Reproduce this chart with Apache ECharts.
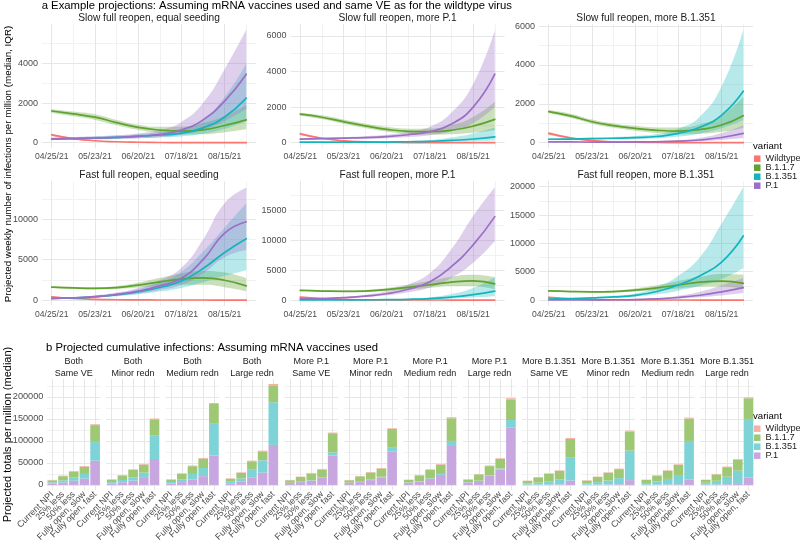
<!DOCTYPE html>
<html><head><meta charset="utf-8">
<script src="https://cdn.jsdelivr.net/npm/echarts@6/dist/echarts.min.js"></script>
<style>html,body{margin:0;padding:0;background:#fff}#c{width:800px;height:541px}</style>
</head><body><div id="c"></div>
<script>
// ---------- DATA ----------
const variants = ['Wildtype','B.1.1.7','B.1.351','P.1'];
const days = [0,14,28,42,56,70,84,98,112,126];          // days after 04/25/21
const dateTickDays = [0,28,56,84,112];
const dateTickLabels = ['04/25/21','05/23/21','06/20/21','07/18/21','08/15/21'];
const topTitles = ['Slow full reopen, equal seeding','Slow full reopen, more P.1','Slow full reopen, more B.1.351',
                   'Fast full reopen, equal seeding','Fast full reopen, more P.1','Fast full reopen, more B.1.351'];

// Panel: Slow full reopen, equal seeding
const slowEq_WT_med = [400,210,100,50,25,12,7,4,2,1];
const slowEq_WT_lo  = [330,170,80,38,18,9,5,3,1,0];
const slowEq_WT_hi  = [470,250,125,65,33,17,10,6,3,2];
const slowEq_B117_med = [1600,1450,1290,1010,770,640,590,650,870,1150];
const slowEq_B117_lo  = [1500,1330,1150,880,640,500,420,430,530,680];
const slowEq_B117_hi  = [1690,1570,1430,1150,910,800,820,1000,1350,1900];
const slowEq_B351_med = [180,200,230,270,320,390,480,750,1300,2250];
const slowEq_B351_lo  = [130,150,170,200,230,270,320,450,700,1100];
const slowEq_B351_hi  = [240,270,310,360,430,540,720,1200,2300,4000];
const slowEq_P1_med = [200,220,240,270,330,420,640,1150,2100,3450];
const slowEq_P1_lo  = [150,160,170,190,230,280,400,650,1100,1700];
const slowEq_P1_hi  = [260,290,330,380,470,640,1050,2000,3700,5700];

// Panel: Slow full reopen, more P.1
const slowP1_WT_med = [500,250,110,50,25,12,6,3,2,1];
const slowP1_WT_lo  = [420,205,88,38,18,9,4,2,1,0];
const slowP1_WT_hi  = [580,295,135,65,33,16,8,5,3,2];
const slowP1_B117_med = [1600,1430,1180,950,750,640,620,700,930,1310];
const slowP1_B117_lo  = [1520,1330,1060,820,620,500,460,480,560,700];
const slowP1_B117_hi  = [1680,1540,1310,1080,890,790,800,1000,1450,2300];
const slowP1_B351_med = [30,30,30,35,40,55,80,130,210,330];
const slowP1_B351_lo  = [20,20,20,25,28,35,45,65,90,120];
const slowP1_B351_hi  = [45,45,48,55,65,95,160,300,520,850];
const slowP1_P1_med = [200,230,260,290,340,450,620,1050,2000,3850];
const slowP1_P1_lo  = [160,180,200,220,250,320,420,650,1100,2000];
const slowP1_P1_hi  = [240,280,320,370,450,620,900,1700,3300,6300];

// Panel: Slow full reopen, more B.1.351
const slowB351_WT_med = [480,250,110,50,25,12,6,3,2,1];
const slowB351_WT_lo  = [400,205,88,38,18,9,4,2,1,0];
const slowB351_WT_hi  = [560,295,135,65,33,16,8,5,3,2];
const slowB351_B117_med = [1600,1380,1080,880,740,640,600,680,910,1390];
const slowB351_B117_lo  = [1520,1280,980,770,620,500,440,460,560,760];
const slowB351_B117_hi  = [1680,1490,1190,990,870,790,790,950,1400,2350];
const slowB351_B351_med = [180,190,210,230,260,320,480,800,1420,2650];
const slowB351_B351_lo  = [140,150,160,175,195,230,320,480,750,1150];
const slowB351_B351_hi  = [230,240,270,300,350,450,720,1350,2900,5800];
const slowB351_P1_med = [40,40,35,35,40,50,80,140,270,480];
const slowB351_P1_lo  = [30,30,25,25,28,35,50,80,140,240];
const slowB351_P1_hi  = [55,55,50,50,55,75,130,250,500,900];

// Panel: Fast full reopen, equal seeding
const fastEq_WT_med = [400,200,80,35,15,8,4,2,1,1];
const fastEq_WT_lo  = [330,165,65,28,12,6,3,1,0,0];
const fastEq_WT_hi  = [470,240,100,45,20,11,6,3,2,2];
const fastEq_B117_med = [1600,1500,1450,1550,1850,2250,2600,2750,2450,1750];
const fastEq_B117_lo  = [1500,1400,1330,1380,1550,1750,1900,1900,1600,1100];
const fastEq_B117_hi  = [1700,1620,1580,1750,2150,2750,3300,3600,3400,2700];
const fastEq_B351_med = [180,250,400,650,1000,1550,2350,3900,5900,7600];
const fastEq_B351_lo  = [140,190,300,480,720,1050,1500,2200,3000,3700];
const fastEq_B351_hi  = [220,320,520,850,1350,2200,3500,6000,9000,12000];
const fastEq_P1_med = [200,270,420,700,1100,1750,2700,5000,8300,9700];
const fastEq_P1_lo  = [160,210,320,520,800,1250,1900,3300,5300,6200];
const fastEq_P1_hi  = [250,340,550,920,1500,2450,4000,7500,12000,13900];

// Panel: Fast full reopen, more P.1
const fastP1_WT_med = [500,250,100,40,15,8,4,2,1,1];
const fastP1_WT_lo  = [420,205,80,32,12,6,3,1,0,0];
const fastP1_WT_hi  = [580,295,120,50,20,11,6,3,2,2];
const fastP1_B117_med = [1600,1500,1450,1500,1750,2100,2550,3000,3200,2700];
const fastP1_B117_lo  = [1500,1400,1330,1350,1520,1750,2050,2300,2300,1800];
const fastP1_B117_hi  = [1700,1620,1580,1680,2000,2550,3200,3900,4200,3800];
const fastP1_B351_med = [30,30,30,40,60,120,250,500,900,1500];
const fastP1_B351_lo  = [20,20,20,28,40,70,130,250,430,650];
const fastP1_B351_hi  = [45,45,45,60,100,200,450,1000,2000,3800];
const fastP1_P1_med = [200,250,400,650,1050,1800,3050,5600,9200,13900];
const fastP1_P1_lo  = [160,200,310,500,780,1300,2100,3700,6200,9800];
const fastP1_P1_hi  = [250,320,520,860,1450,2600,4500,8500,14000,18800];

// Panel: Fast full reopen, more B.1.351
const fastB351_WT_med = [480,220,90,35,15,7,4,2,1,1];
const fastB351_WT_lo  = [400,180,72,28,12,5,3,1,0,0];
const fastB351_WT_hi  = [560,260,110,45,20,10,6,3,2,2];
const fastB351_B117_med = [1600,1500,1450,1500,1750,2150,2650,3150,3350,2950];
const fastB351_B117_lo  = [1500,1400,1330,1350,1500,1750,2050,2350,2400,1950];
const fastB351_B117_hi  = [1700,1620,1580,1680,2050,2600,3350,4100,4600,4500];
const fastB351_B351_med = [180,250,380,550,820,1500,2650,4300,6700,11300];
const fastB351_B351_lo  = [140,190,290,420,600,1000,1650,2500,3700,5600];
const fastB351_B351_hi  = [220,320,500,750,1150,2300,4300,7600,13500,19900];
const fastB351_P1_med = [40,40,40,50,90,200,450,850,1450,2200];
const fastB351_P1_lo  = [30,30,28,35,60,130,280,500,820,1250];
const fastB351_P1_hi  = [55,55,55,70,130,300,750,1450,2600,3900];

// Bottom: cumulative totals per million (median), 12 facets x 5 scenarios
const barCategories = ['Current NPI','25% less','50% less','Fully open, slow','Fully open, fast'];
const facetGroup = ['Both','Both','Both','Both','More P.1','More P.1','More P.1','More P.1','More B.1.351','More B.1.351','More B.1.351','More B.1.351'];
const facetVE = ['Same VE','Minor redn','Medium redn','Large redn','Same VE','Minor redn','Medium redn','Large redn','Same VE','Minor redn','Medium redn','Large redn'];
const barP1 = [
  [3000,5500,9500,14500,55000],[3300,6000,9800,16000,59000],[3300,6500,12500,20000,67000],[3500,7500,17500,28000,91000],
  [4500,6500,9800,16000,67000],[4700,6500,11000,17000,75500],[5000,7500,14000,23000,88500],[5500,9000,21000,35000,131000],
  [600,800,1000,1300,10000],[600,800,1100,1500,11000],[600,800,1200,1700,12500],[700,1000,1700,2300,16600]];
const barB351 = [
  [3000,5000,7000,10500,43000],[3200,5300,7500,12000,53000],[3300,6500,12500,18500,72000],[4000,7500,17000,28000,97000],
  [500,700,1000,1500,7000],[600,700,1000,1500,9000],[600,800,1200,2000,11500],[700,900,1500,2500,16500],
  [3000,4500,7500,11000,52000],[3200,5500,9000,14000,67000],[3800,7000,12500,21000,87500],[4200,8500,17000,30000,133400]];
const barB117 = [
  [4500,9500,14000,16500,38000],[5400,10200,17000,18200,37000],[5300,12300,17700,21300,45000],[6500,12500,19300,20300,38500],
  [5600,10800,15300,17500,43500],[5300,12300,16300,18700,42800],[5700,13400,19200,21300,51500],[5900,14100,20300,21700,47000],
  [5500,12000,17000,19800,42500],[6000,11700,17600,20400,43000],[6900,13200,18500,23000,50800],[6400,14500,21800,25400,47000]];
const barWT = [
  [1000,1200,1300,1500,2000],[1000,1200,1300,1500,2000],[1000,1200,1300,1600,2200],[1000,1300,1500,1700,3000],
  [800,1000,1200,1400,1500],[800,1000,1200,1400,1500],[800,1000,1200,1400,2300],[800,1000,1200,1400,2500],
  [700,900,1000,1200,2300],[800,1000,1100,1200,2500],[800,1000,1100,1300,2200],[800,1000,1200,1300,2000]];
const barTicks = [0,50000,100000,150000,200000];

// ---------- STYLE / LAYOUT ----------
const FONT = '"Liberation Sans", Arial, Helvetica, sans-serif';
const lineColors = ['#F8766D','#5FA22F','#12B5BC','#9B6FC6'];
const bandColors = ['rgba(248,118,109,0.35)','rgba(95,162,47,0.33)','rgba(18,181,188,0.3)','rgba(155,111,198,0.33)'];
const barColors = ['#F6B0A6','#9FC874','#7ED3D7','#C8A7E0'];
const topLeft = [42, 290.5, 539], topTop = [23.9, 181.2], topW = 214, topH = 124.5;
const topYHi = [5700, 6348, 5819, 14025, 18864, 19973];
const topYStep = [2000, 2000, 2000, 5000, 5000, 5000];
const barHi = 229500, barTop = 378.9, barH = 111.1;
const facetX0 = 73.7, facetDX = 59.4, facetW = 53.5;
const axisTxt = '#4d4d4d', stripTxt = '#1a1a1a';
const GMAJ = {color:'#e6e6e6', width:1, type:'solid'};
const GMIN = {color:'#f2f2f2', width:1, type:'solid'};
const SMOOTH = 0.5;

const topPanels = [
  [[slowEq_WT_med,slowEq_WT_lo,slowEq_WT_hi],[slowEq_B117_med,slowEq_B117_lo,slowEq_B117_hi],[slowEq_B351_med,slowEq_B351_lo,slowEq_B351_hi],[slowEq_P1_med,slowEq_P1_lo,slowEq_P1_hi]],
  [[slowP1_WT_med,slowP1_WT_lo,slowP1_WT_hi],[slowP1_B117_med,slowP1_B117_lo,slowP1_B117_hi],[slowP1_B351_med,slowP1_B351_lo,slowP1_B351_hi],[slowP1_P1_med,slowP1_P1_lo,slowP1_P1_hi]],
  [[slowB351_WT_med,slowB351_WT_lo,slowB351_WT_hi],[slowB351_B117_med,slowB351_B117_lo,slowB351_B117_hi],[slowB351_B351_med,slowB351_B351_lo,slowB351_B351_hi],[slowB351_P1_med,slowB351_P1_lo,slowB351_P1_hi]],
  [[fastEq_WT_med,fastEq_WT_lo,fastEq_WT_hi],[fastEq_B117_med,fastEq_B117_lo,fastEq_B117_hi],[fastEq_B351_med,fastEq_B351_lo,fastEq_B351_hi],[fastEq_P1_med,fastEq_P1_lo,fastEq_P1_hi]],
  [[fastP1_WT_med,fastP1_WT_lo,fastP1_WT_hi],[fastP1_B117_med,fastP1_B117_lo,fastP1_B117_hi],[fastP1_B351_med,fastP1_B351_lo,fastP1_B351_hi],[fastP1_P1_med,fastP1_P1_lo,fastP1_P1_hi]],
  [[fastB351_WT_med,fastB351_WT_lo,fastB351_WT_hi],[fastB351_B117_med,fastB351_B117_lo,fastB351_B117_hi],[fastB351_B351_med,fastB351_B351_lo,fastB351_B351_hi],[fastB351_P1_med,fastB351_P1_lo,fastB351_P1_hi]]
];
const barData = [barWT, barB117, barB351, barP1];

// ---------- BUILD ----------
const DAY = 86400000, t0 = Date.UTC(2021,3,25);
const toT = d => t0 + d*DAY;
function dateLabel(v){ const i = dateTickDays.indexOf(Math.round(v)); return i >= 0 ? dateTickLabels[i] : ''; }
const plain = v => String(Math.round(v));

const option = {animation:false, textStyle:{fontFamily:FONT}, grid:[], xAxis:[], yAxis:[], series:[], graphic:[], legend:[]};

function gridLines(xi, yi, xMaj, xMin, yMaj, yMin){
  const data = [];
  xMin.forEach(v=>data.push({xAxis:v, lineStyle:GMIN}));
  yMin.forEach(v=>data.push({yAxis:v, lineStyle:GMIN}));
  xMaj.forEach(v=>data.push({xAxis:v, lineStyle:GMAJ}));
  yMaj.forEach(v=>data.push({yAxis:v, lineStyle:GMAJ}));
  return {type:'line', xAxisIndex:xi, yAxisIndex:yi, data:[], silent:true, z:0,
    markLine:{silent:true, z:0, symbol:['none','none'], label:{show:false}, emphasis:{disabled:true}, animation:false, data}};
}
function txt(text, x, y, size, color, align, extra){
  return Object.assign({type:'text', x, y, silent:true, style:{text, fill:color, fontSize:size, fontFamily:FONT, align:align||'center', verticalAlign:'middle'}}, extra||{});
}

let gi = 0, xi = 0;
topPanels.forEach((pn, p) => {
  const row = Math.floor(p/3), col = p%3;
  const H = topYHi[p], step = topYStep[p], ymin = -0.05*H, ymax = 1.05*H;
  option.grid.push({left:topLeft[col], top:topTop[row], width:topW, height:topH, outerBoundsMode:'none'});
  const dataX = xi;
  option.xAxis.push({type:'time', gridIndex:gi, min:toT(-6.3), max:toT(132.3), position:'bottom',
    axisLine:{show:false}, axisTick:{show:false}, splitLine:{show:false}, axisLabel:{show:false}});
  xi++;
  option.xAxis.push({type:'value', gridIndex:gi, min:-6.3, max:132.3, position:'bottom',
    axisLine:{show:false}, axisTick:{show:false}, splitLine:{show:false},
    axisLabel:{customValues:dateTickDays, formatter:dateLabel, fontSize:8.6, color:axisTxt, margin:4, hideOverlap:false}});
  xi++;
  const maj = [], mnr = [];
  for (let v=0; v<=ymax; v+=step) maj.push(v);
  for (let v=step/2; v<=ymax; v+=step) mnr.push(v);
  option.yAxis.push({type:'value', gridIndex:gi, min:ymin, max:ymax,
    axisLine:{show:false}, axisTick:{show:false}, splitLine:{show:false},
    axisLabel:{customValues:maj, formatter:plain, fontSize:9, color:axisTxt, margin:4}});
  option.series.push(gridLines(dataX, gi, dateTickDays.map(toT), [14,42,70,98,126].map(toT), maj, mnr));
  pn.forEach(([med, lo, hi], k) => {
    const stack = 'band'+p+'_'+k;
    option.series.push({type:'line', xAxisIndex:dataX, yAxisIndex:gi, stack, silent:true, z:6,
      data:days.map((d,i)=>[toT(d), lo[i]]), symbol:'none', smooth:SMOOTH, lineStyle:{width:0, opacity:0}});
    option.series.push({type:'line', xAxisIndex:dataX, yAxisIndex:gi, stack, silent:true, z:6,
      data:days.map((d,i)=>[toT(d), hi[i]-lo[i]]), symbol:'none', smooth:SMOOTH,
      lineStyle:{width:0, opacity:0}, areaStyle:{color:bandColors[k], opacity:1}});
  });
  pn.forEach(([med], k) => {
    option.series.push({type:'line', name:variants[k], xAxisIndex:dataX, yAxisIndex:gi, silent:true, z:7,
      data:days.map((d,i)=>[toT(d), med[i]]), symbol:'none', smooth:SMOOTH,
      lineStyle:{width:1.7, color:lineColors[k], cap:'round', join:'round'}, itemStyle:{color:lineColors[k]}});
  });
  option.graphic.push(txt(topTitles[p], topLeft[col]+topW/2, row===0?18.3:175.6, 10.2, stripTxt));
  gi++;
});

const bMaj = barTicks, bMin = barTicks.map(v=>v+25000).filter(v=>v<=1.05*barHi);
for (let i=0; i<12; i++){
  const cx = facetX0 + facetDX*i;
  option.grid.push({left:cx-facetW/2, top:barTop, width:facetW, height:barH, outerBoundsMode:'none'});
  option.xAxis.push({type:'category', gridIndex:gi, data:barCategories,
    axisLine:{show:false}, axisTick:{show:false}, splitLine:{show:false},
    axisLabel:{interval:0, rotate:45, fontSize:9, color:axisTxt, margin:3, hideOverlap:false}});
  option.yAxis.push({type:'value', gridIndex:gi, min:-0.05*barHi, max:1.05*barHi,
    axisLine:{show:false}, axisTick:{show:false}, splitLine:{show:false},
    axisLabel:{show:i===0, customValues:bMaj, formatter:plain, fontSize:9.2, color:axisTxt, margin:3.5}});
  option.series.push(gridLines(xi, gi, barCategories, [], bMaj, bMin));
  [3,2,1,0].forEach(k => {
    option.series.push({type:'bar', name:variants[k], xAxisIndex:xi, yAxisIndex:gi, stack:'s'+i, silent:true, z:6,
      data:barData[k][i], barWidth:'90%', itemStyle:{color:barColors[k]}});
  });
  option.graphic.push(txt(facetGroup[i], cx, 361.7, 9, stripTxt));
  option.graphic.push(txt(facetVE[i], cx, 373.3, 9, stripTxt));
  gi++; xi++;
}

// titles
option.graphic.push(txt('a Example projections: Assuming mRNA vaccines used and same VE as for the wildtype virus', 41.7, 5.5, 11.3, '#000', 'left'));
option.graphic.push(txt('b Projected cumulative infections: Assuming mRNA vaccines used', 46, 348.3, 11.3, '#000', 'left'));
option.graphic.push(txt('Projected weekly number of infections per million (median, IQR)', 8, 164, 9.8, '#000', 'center', {rotation:Math.PI/2}));
option.graphic.push(txt('Projected totals per million (median)', 8, 434.5, 11, '#000', 'center', {rotation:Math.PI/2}));
option.graphic.push(txt('variant', 753, 146, 9.6, '#000', 'left'));
option.graphic.push(txt('variant', 753, 416.7, 9.6, '#000', 'left'));

option.legend.push({orient:'vertical', left:754, top:154.2, itemWidth:6.5, itemHeight:6.5, itemGap:0, padding:0, icon:'rect', selectedMode:false,
  textStyle:{fontSize:9.2, color:stripTxt, lineHeight:8.3, fontFamily:FONT},
  data:variants.map((v,k)=>({name:v, itemStyle:{color:lineColors[k]}}))});
option.legend.push({orient:'vertical', left:754, top:424.2, itemWidth:6.5, itemHeight:6.5, itemGap:0, padding:0, icon:'rect', selectedMode:false,
  textStyle:{fontSize:9.2, color:stripTxt, lineHeight:8.3, fontFamily:FONT},
  data:variants.map((v,k)=>({name:v, itemStyle:{color:barColors[k]}}))});

const chart = echarts.init(document.getElementById('c'), null, {renderer:'canvas'});
chart.setOption(option);
</script></body></html>
